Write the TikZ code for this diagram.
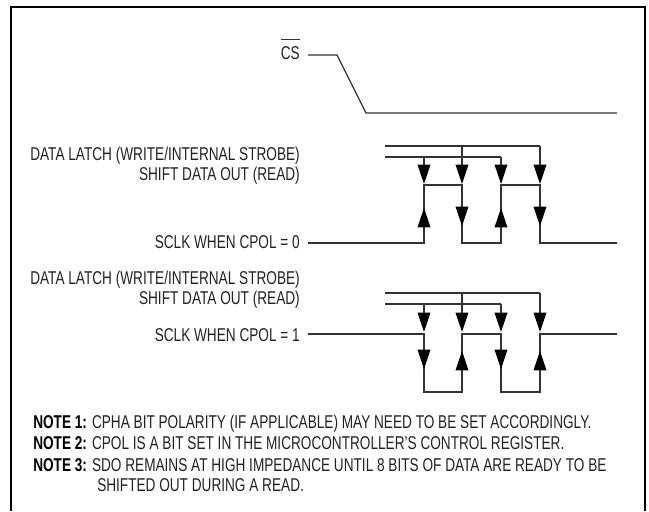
\documentclass[tikz,border=0pt]{standalone}
\usepackage{amsmath}
\usepackage{fontspec}
\usepackage{xcolor}
\usetikzlibrary{arrows.meta}
\setmainfont[FakeStretch=0.735]{Liberation Sans}
\definecolor{line-gray}{HTML}{333333}
\definecolor{text-gray}{HTML}{222222}
\newcommand{\notehead}[1]{\textbf{\textcolor{black}{#1}}}
\tikzset{
    page-frame/.style = {draw=black, line width=1.6pt, line join=miter},
    wave-line/.style = {draw=line-gray, line width=0.95pt, line join=miter},
    strobe-line/.style = {draw=line-gray, line width=0.95pt},
    edge-arrow/.style = {draw=line-gray, line width=0.95pt, -{Triangle[width=9.5pt, length=14.5pt, fill=black, color=black]}},
    signal-label/.style = {anchor=base east, inner sep=0pt, text=text-gray, font=\fontsize{13.9}{16}\selectfont},
    note-label/.style = {anchor=base west, inner sep=0pt, text=text-gray, font=\fontsize{13.9}{16}\selectfont},
}

\begin{document}
\begin{tikzpicture}[x=0.75pt, y=-0.75pt]
\useasboundingbox (0,0) rectangle (649,511);
\draw[page-frame] (11,511) -- (11,7) -- (645,7) -- (645,511);

\node[signal-label] (cs) at (300,59.3) {CS};
\draw[strobe-line] ([yshift=4.8pt]cs.north west) -- ([yshift=4.8pt]cs.north east);
\coordinate (cs-start) at (308,55);
\coordinate (cs-end) at (617,113);
\draw[wave-line] (cs-start) -- (337,55) -- (366,113) -- (cs-end);

% clock with CPOL = 0
\node[signal-label] (latch-a) at (300,160.7) {DATA LATCH (WRITE/INTERNAL STROBE)};
\node[signal-label] (shift-a) at (300,180.7) {SHIFT DATA OUT (READ)};
\node[signal-label] (sclk-a) at (300,248) {SCLK WHEN CPOL = 0};
\draw[strobe-line] (385,146) -- (540,146);
\draw[strobe-line] (385,157) -- (501,157);
\draw[wave-line] (308,243) -- (424,243) -- (424,185) -- (462,185) -- (462,243) -- (501,243) -- (501,185) -- (540,185) -- (540,243) -- (617,243);
\foreach \x/\y in {424/157, 462/146, 501/157, 540/146}
    \draw[edge-arrow] (\x,\y) -- (\x,184);
\foreach \x in {462, 540}
    \draw[edge-arrow] (\x,186) -- (\x,226);
\foreach \x in {424, 501}
    \draw[edge-arrow] (\x,242) -- (\x,208);

% clock with CPOL = 1
\node[signal-label] (latch-b) at (300,284) {DATA LATCH (WRITE/INTERNAL STROBE)};
\node[signal-label] (shift-b) at (300,304) {SHIFT DATA OUT (READ)};
\node[signal-label] (sclk-b) at (300,341.7) {SCLK WHEN CPOL = 1};
\draw[strobe-line] (385,293) -- (540,293);
\draw[strobe-line] (385,304) -- (501,304);
\draw[wave-line] (308,334) -- (424,334) -- (424,392) -- (462,392) -- (462,334) -- (501,334) -- (501,392) -- (540,392) -- (540,334) -- (617,334);
\foreach \x/\y in {424/304, 462/293, 501/304, 540/293}
    \draw[edge-arrow] (\x,\y) -- (\x,332);
\foreach \x in {424, 501}
    \draw[edge-arrow] (\x,335) -- (\x,369);
\foreach \x in {462, 540}
    \draw[edge-arrow] (\x,391) -- (\x,351);

% notes
\node[note-label] (note-a) at (33,428) {\notehead{NOTE 1:} CPHA BIT POLARITY (IF APPLICABLE) MAY NEED TO BE SET ACCORDINGLY.};
\node[note-label] (note-b) at (33,449.5) {\notehead{NOTE 2:} CPOL IS A BIT SET IN THE MICROCONTROLLER'S CONTROL REGISTER.};
\node[note-label] (note-c) at (33,471) {\notehead{NOTE 3:} SDO REMAINS AT HIGH IMPEDANCE UNTIL 8 BITS OF DATA ARE READY TO BE};
\node[note-label] (note-d) at (97,491.5) {SHIFTED OUT DURING A READ.};
\end{tikzpicture}
\end{document}
